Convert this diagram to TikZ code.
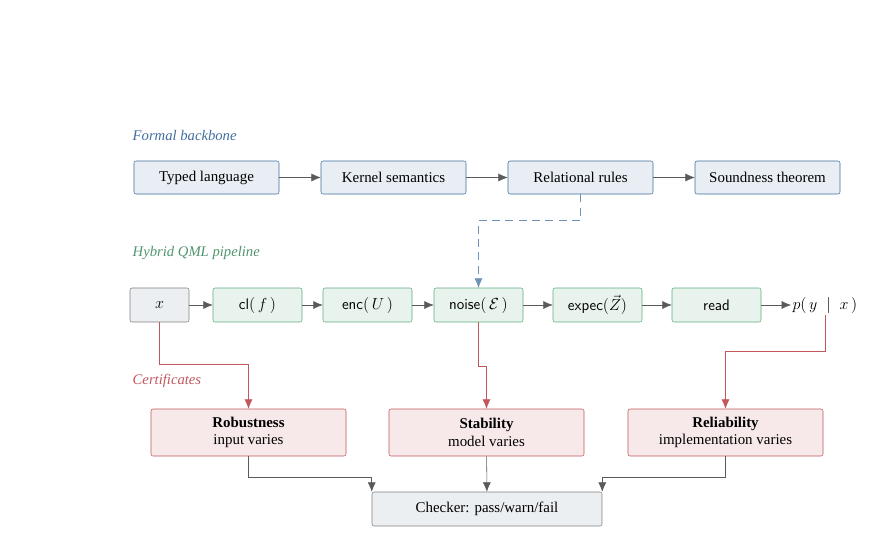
\documentclass[tikz,border=0pt]{standalone}
\usepackage{fontspec}
\setmainfont{Liberation Serif}
\usetikzlibrary{arrows.meta}

\definecolor{backblue}{HTML}{3F6E9E}
\definecolor{pipegreen}{HTML}{5FAE80}
\definecolor{certred}{HTML}{C0575C}
\definecolor{wiregray}{HTML}{5A5A5A}
\definecolor{plainfill}{HTML}{ECEFF2}

\tikzset{
	formalbox/.style={draw=backblue, fill=backblue!12, rounded corners=1.5pt, minimum width=145*0.75pt, minimum height=33*0.75pt, font=\fontsize{11.2}{13}\selectfont},
	pipebox/.style={draw=pipegreen, fill=pipegreen!15, rounded corners=1.5pt, minimum width=89*0.75pt, minimum height=34*0.75pt, font=\fontsize{11.5}{13}\selectfont\sffamily},
	inbox/.style={draw=gray, fill=plainfill, rounded corners=1.5pt, minimum width=59*0.75pt, minimum height=34*0.75pt, font=\fontsize{11.5}{13}\selectfont},
	certbox/.style={draw=certred, fill=certred!13, rounded corners=1.5pt, minimum width=195*0.75pt, minimum height=47*0.75pt, align=center, font=\fontsize{11.2}{13}\selectfont},
	flow/.style={draw=wiregray, -{Latex[length=7pt,width=6pt]}},
	feed/.style={draw=certred, -{Latex[length=7pt,width=6pt]}},
	grouplabel/.style={anchor=west, font=\fontsize{11}{13}\selectfont\itshape}
}

\begin{document}
\begin{tikzpicture}[x=0.75pt, y=-0.75pt]

\useasboundingbox (0,0) rectangle (891,535);

% formal backbone
\node[grouplabel, text=backblue] (lblformal) at (128,135) {Formal backbone};
\node[formalbox] (typed) at (206.5,177.5) {Typed language};
\node[formalbox] (kernel) at (393.5,177.5) {Kernel semantics};
\node[formalbox] (rules) at (580.5,177.5) {Relational rules};
\node[formalbox] (sound) at (767.5,177.5) {Soundness theorem};

\draw[flow] (typed) -- (kernel);
\draw[flow] (kernel) -- (rules);
\draw[flow] (rules) -- (sound);

% pipeline
\node[grouplabel, text=pipegreen!85!black] (lblpipe) at (128,253) {Hybrid QML pipeline};
\node[inbox] (xin) at (159.5,305) {$x$};
\node[pipebox] (cl) at (257.5,305) {cl$(\,f\,)$};
\node[pipebox] (enc) at (367.5,305) {enc$(\,U\,)$};
\node[pipebox] (noise) at (478.5,305) {noise$(\,\mathcal{E}\,)$};
\node[pipebox] (expec) at (597.5,305) {expec$(\vec{Z})$};
\node[pipebox] (read) at (716.5,305) {read};
\node[font=\fontsize{11.5}{13}\selectfont, inner sep=1pt, anchor=west] (pout) at (791,305) {$p(\,y\;\mid\;x\,)$};

\draw[flow] (xin) -- (cl);
\draw[flow] (cl) -- (enc);
\draw[flow] (enc) -- (noise);
\draw[flow] (noise) -- (expec);
\draw[flow] (expec) -- (read);
\draw[flow] (read) -- (pout);

\draw[draw=backblue!75, dashed, dash pattern=on 6pt off 4pt, -{Latex[length=7pt,width=6pt]}] (rules.south) -- ++(0,26) -| (noise.north);

% certificates
\node[grouplabel, text=certred] (lblcert) at (128,381) {Certificates};
\node[certbox] (robust) at (248.5,432.5) {\textbf{Robustness}\\input varies};
\node[certbox] (stable) at (486.5,432.5) {\textbf{Stability}\\model varies};
\node[certbox] (reliable) at (725.5,432.5) {\textbf{Reliability}\\implementation varies};

\draw[feed] (xin.south) -- ++(0,42) -| (robust.north);
\draw[feed] (noise.south) -- ++(0,44) -| (stable.north);
\draw[feed] (pout.south) -- ++(0,37) -| (reliable.north);

% checker
\node[draw=gray, fill=plainfill, rounded corners=1.5pt, minimum width=230*0.75pt, minimum height=34*0.75pt, font=\fontsize{11.2}{13}\selectfont] (check) at (487,509) {Checker: pass/warn/fail};

\draw[flow] (robust.south) -- ++(0,21) -| (check.north west);
\draw[flow] (stable) -- (check);
\draw[flow] (reliable.south) -- ++(0,21) -| (check.north east);

\end{tikzpicture}
\end{document}
